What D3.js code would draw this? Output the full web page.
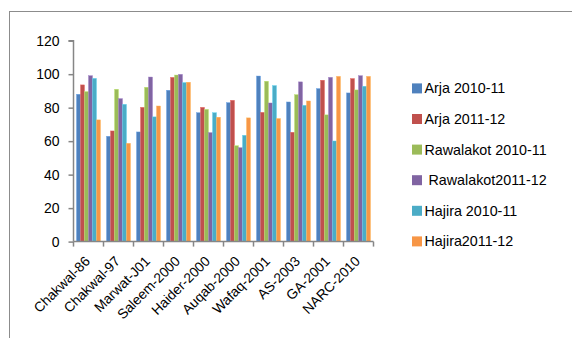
<!DOCTYPE html>
<html>
<head>
<meta charset="utf-8">
<script src="https://cdn.jsdelivr.net/npm/d3@7"></script>
<style>
  html, body { margin: 0; padding: 0; background: #fff; }
  svg { display: block; }
  text { font-family: "Liberation Sans", Arial, sans-serif; fill: #000; }
</style>
</head>
<body>
<svg id="chart" width="572" height="338"></svg>
<script>
// Varieties along the x axis
const categories = ["Chakwal-86", "Chakwal-97", "Marwat-J01", "Saleem-2000", "Haider-2000",
                    "Auqab-2000", "Wafaq-2001", "AS-2003", "GA-2001", "NARC-2010"];

// One array per location/season
const seriesNames = ["Arja 2010-11", "Arja 2011-12", "Rawalakot 2010-11",
                     " Rawalakot2011-12", "Hajira 2010-11", "Hajira2011-12"];
const arja1011      = [88, 62.9, 65.5, 90.4, 77, 83, 98.9, 83.4, 91.4, 88.8];
const arja1112      = [93.6, 66.1, 80.2, 98.1, 80.2, 84.4, 77.2, 65.3, 96.4, 97.4];
const rawalakot1011 = [89.6, 91, 92.2, 99.5, 79, 57.3, 95.8, 87.8, 75.7, 90.6];
const rawalakot1112 = [99.1, 85.4, 98.3, 99.9, 65.1, 56.1, 82.8, 95.4, 98.1, 99.1];
const hajira1011    = [97.5, 82, 74.5, 95, 77, 63.5, 93.2, 81.4, 60.1, 92.8];
const hajira1112    = [72.7, 58.7, 81, 95.2, 74.3, 73.9, 73.5, 84, 98.7, 98.7];

const yTicks = [0, 20, 40, 60, 80, 100, 120];
const colors = ["#4F81BD", "#C0504D", "#9BBB59", "#8064A2", "#4BACC6", "#F79646"];

const seriesValues = [arja1011, arja1112, rawalakot1011, rawalakot1112, hajira1011, hajira1112];

const svg = d3.select("#chart");
const axisColor = "#868686";

// Outer chart frame
svg.append("rect")
  .attr("x", 9.5).attr("y", 11.5)
  .attr("width", 600).attr("height", 400)
  .attr("fill", "none").attr("stroke", "#8c8c8c").attr("stroke-width", 1);

const plot = { left: 73.5, right: 373.5, top: 40.7, bottom: 241.6 };

const x = d3.scaleBand()
  .domain(categories)
  .range([plot.left, plot.right])
  .paddingInner(0.2)
  .paddingOuter(0.1);

const xs = d3.scaleBand()
  .domain(d3.range(seriesValues.length))
  .range([0, x.bandwidth()]);

const y = d3.scaleLinear().domain([0, 120]).range([plot.bottom, plot.top]);

// Bars
const groups = svg.append("g").selectAll("g")
  .data(categories)
  .join("g")
  .attr("transform", d => `translate(${x(d)},0)`);

groups.selectAll("rect")
  .data((c, ci) => seriesValues.map((vals, si) => ({ si, v: vals[ci] })))
  .join("rect")
  .attr("x", d => xs(d.si))
  .attr("width", xs.bandwidth())
  .attr("y", d => y(d.v))
  .attr("height", d => y(0) - y(d.v))
  .attr("fill", d => colors[d.si])
  .attr("stroke", d => d3.color(colors[d.si]).brighter(0.6))
  .attr("stroke-width", 0.4);

// Y axis
const yAxis = d3.axisLeft(y).tickValues(yTicks).tickSize(5).tickPadding(9);
const yg = svg.append("g").attr("transform", `translate(${plot.left},0)`).call(yAxis);
yg.select(".domain").attr("stroke", axisColor).attr("stroke-width", 1.5)
  .attr("d", `M-5,${y(120)}H0V${y(0)}`);
yg.selectAll(".tick line").attr("stroke", axisColor).attr("stroke-width", 1.5);
yg.selectAll(".tick text").style("font-size", "14px").attr("fill", "#000");

// X axis
const xAxis = d3.axisBottom(x).tickSize(0).tickFormat("");
const xg = svg.append("g").attr("transform", `translate(0,${plot.bottom})`).call(xAxis);
xg.select(".domain").attr("stroke", axisColor).attr("stroke-width", 1.5)
  .attr("d", `M${plot.left},0H${plot.right}`);
xg.selectAll(".tick").remove();
// tick marks between categories
const boundaries = d3.range(categories.length + 1).map(i => plot.left + i * x.step());
xg.selectAll("line.sep")
  .data(boundaries)
  .join("line")
  .attr("class", "sep")
  .attr("x1", d => d).attr("x2", d => d)
  .attr("y1", 0).attr("y2", 5)
  .attr("stroke", axisColor).attr("stroke-width", 1.5);

// Rotated category labels
svg.append("g").selectAll("text")
  .data(categories)
  .join("text")
  .attr("transform", d => `translate(${x(d) + x.bandwidth() / 2 - 1},${plot.bottom + 17}) rotate(-45)`)
  .attr("text-anchor", "end")
  .attr("dy", "0.35em")
  .style("font-size", "13.8px")
  .text(d => d);

// Legend
const legend = svg.append("g");
const legendItems = legend.selectAll("g")
  .data(seriesNames)
  .join("g")
  .attr("transform", (d, i) => `translate(412,${88.4 + i * 30.6})`);
legendItems.append("rect")
  .attr("x", 0).attr("y", -5)
  .attr("width", 10).attr("height", 10)
  .attr("fill", (d, i) => colors[i]);
legendItems.append("text")
  .attr("x", 12.5).attr("y", 0)
  .attr("dy", "0.35em")
  .style("font-size", "14.3px")
  .style("white-space", "pre")
  .attr("xml:space", "preserve")
  .text(d => d);
</script>
</body>
</html>
